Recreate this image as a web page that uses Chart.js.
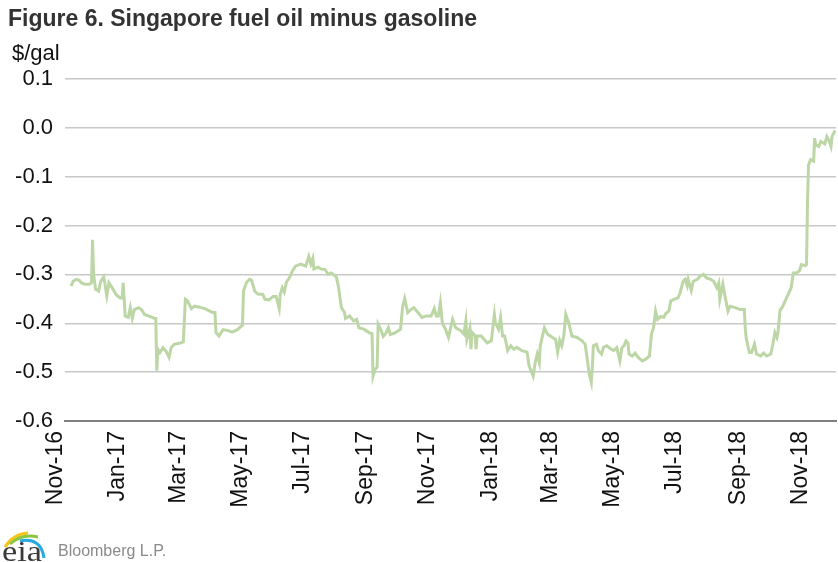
<!DOCTYPE html>
<html>
<head>
<meta charset="utf-8">
<script src="https://cdn.jsdelivr.net/npm/chart.js@4.4.1/dist/chart.umd.min.js"></script>
<style>
body{margin:0;background:#fff;}
#wrap{position:relative;width:838px;height:562px;overflow:hidden;font-family:"Liberation Sans",Arial,sans-serif;}
#title{position:absolute;left:8px;top:7px;line-height:1;font-weight:bold;font-size:23px;color:#333;white-space:nowrap;}
#unit{position:absolute;left:12px;top:42px;line-height:1;font-size:22px;color:#111;}
#logo{position:absolute;left:0;top:528px;}
#src{position:absolute;left:58px;top:543px;line-height:1;font-size:16px;color:#8a8a8a;}
canvas{position:absolute;left:0;top:0;}
</style>
</head>
<body>
<div id="wrap">
  <canvas id="c" width="838" height="562"></canvas>
  <div id="title">Figure 6. Singapore fuel oil minus gasoline</div>
  <div id="unit">$/gal</div>
  <svg id="logo" width="50" height="34">
    <path d="M5 19 Q13 6 28 5" stroke="#f4c51c" stroke-width="3" fill="none"/>
    <path d="M10 16 Q22 5 38 9" stroke="#8cc63f" stroke-width="3" fill="none"/>
    <path d="M20 13 Q41 9 44 30" stroke="#27a9e1" stroke-width="3" fill="none"/>
    <text x="2" y="33" font-family="Liberation Serif, serif" font-size="30" textLength="40" lengthAdjust="spacingAndGlyphs" fill="#3a3a3a">eia</text>
  </svg>
  <div id="src">Bloomberg L.P.</div>
</div>
<script>
// day offsets from 1 Nov 2016
var days = [15,17,20,23,25,28,33,35,36,37,39,42,44,47,50,52,56,59,63,65,66,67,68,71,73,75,77,81,84,87,92,97,98,99,100,102,105,108,111,113,116,121,125,127,129,133,136,141,146,151,154,156,157,160,164,169,173,178,183,184,187,190,192,195,198,203,205,209,213,216,219,220,222,224,226,229,232,235,240,245,248,250,252,253,257,260,264,267,270,275,277,280,283,284,288,292,295,297,302,307,310,311,313,315,316,319,321,324,326,328,333,338,340,342,345,348,351,355,359,363,368,371,373,375,377,379,382,385,389,392,397,400,402,403,406,407,408,411,412,413,417,420,423,427,430,431,434,436,438,440,443,446,449,452,457,462,464,468,470,472,474,475,479,482,487,490,492,494,496,498,500,503,506,511,516,519,521,523,525,526,527,530,532,535,537,540,544,547,550,553,555,557,559,561,562,565,568,571,575,578,582,584,586,588,590,593,596,598,601,603,606,610,612,615,617,619,620,623,625,629,632,635,638,642,645,648,650,651,654,656,659,661,666,671,675,676,677,680,682,685,687,691,694,697,701,703,705,707,708,710,713,715,718,721,723,726,729,731,735,736,737,738,740,743,744,745,748,750,754,756,758,760,761,764];
var spread = [-0.324,-0.314,-0.31,-0.312,-0.317,-0.32,-0.32,-0.317,-0.229,-0.30,-0.33,-0.334,-0.314,-0.305,-0.344,-0.317,-0.33,-0.341,-0.348,-0.348,-0.317,-0.35,-0.385,-0.388,-0.368,-0.39,-0.372,-0.368,-0.372,-0.382,-0.386,-0.39,-0.39,-0.497,-0.453,-0.46,-0.45,-0.457,-0.47,-0.45,-0.443,-0.441,-0.438,-0.351,-0.354,-0.37,-0.365,-0.367,-0.37,-0.375,-0.378,-0.378,-0.419,-0.426,-0.413,-0.415,-0.418,-0.413,-0.404,-0.334,-0.316,-0.31,-0.312,-0.334,-0.34,-0.341,-0.351,-0.352,-0.345,-0.345,-0.37,-0.341,-0.327,-0.336,-0.316,-0.307,-0.293,-0.283,-0.279,-0.283,-0.263,-0.279,-0.267,-0.289,-0.285,-0.289,-0.29,-0.30,-0.297,-0.305,-0.324,-0.368,-0.378,-0.39,-0.385,-0.395,-0.392,-0.409,-0.412,-0.419,-0.421,-0.508,-0.494,-0.49,-0.402,-0.415,-0.427,-0.419,-0.409,-0.423,-0.419,-0.412,-0.366,-0.349,-0.378,-0.372,-0.368,-0.378,-0.388,-0.385,-0.385,-0.37,-0.385,-0.385,-0.358,-0.40,-0.412,-0.429,-0.392,-0.409,-0.415,-0.422,-0.395,-0.433,-0.41,-0.453,-0.418,-0.425,-0.453,-0.426,-0.426,-0.433,-0.44,-0.436,-0.382,-0.399,-0.412,-0.388,-0.426,-0.426,-0.456,-0.446,-0.453,-0.449,-0.456,-0.459,-0.487,-0.508,-0.48,-0.463,-0.48,-0.446,-0.409,-0.422,-0.429,-0.433,-0.459,-0.435,-0.446,-0.426,-0.382,-0.40,-0.426,-0.429,-0.436,-0.443,-0.473,-0.504,-0.521,-0.49,-0.446,-0.443,-0.456,-0.463,-0.449,-0.446,-0.452,-0.456,-0.45,-0.477,-0.45,-0.446,-0.436,-0.44,-0.463,-0.467,-0.461,-0.47,-0.477,-0.474,-0.467,-0.422,-0.409,-0.375,-0.392,-0.386,-0.388,-0.38,-0.375,-0.354,-0.351,-0.348,-0.338,-0.314,-0.31,-0.323,-0.31,-0.333,-0.314,-0.31,-0.303,-0.30,-0.307,-0.31,-0.314,-0.327,-0.317,-0.351,-0.32,-0.344,-0.375,-0.365,-0.368,-0.372,-0.372,-0.412,-0.432,-0.46,-0.46,-0.443,-0.463,-0.467,-0.461,-0.467,-0.463,-0.443,-0.419,-0.429,-0.419,-0.374,-0.364,-0.354,-0.341,-0.327,-0.297,-0.297,-0.293,-0.28,-0.282,-0.28,-0.147,-0.076,-0.065,-0.068,-0.021,-0.035,-0.038,-0.028,-0.033,-0.018,-0.026,-0.038,-0.018,-0.005];
var monthLabels = ['Nov-16','Jan-17','Mar-17','May-17','Jul-17','Sep-17','Nov-17','Jan-18','Mar-18','May-18','Jul-18','Sep-18','Nov-18'];
var yTicks = [-0.6,-0.5,-0.4,-0.3,-0.2,-0.1,0,0.1];

var monNames = ['Jan','Feb','Mar','Apr','May','Jun','Jul','Aug','Sep','Oct','Nov','Dec'];
var start = Date.UTC(2016,10,1);
var tickDays = monthLabels.map(function(l){
  var p = l.split('-');
  return Math.round((Date.UTC(2000+parseInt(p[1]), monNames.indexOf(p[0]), 1) - start)/86400000);
});

var pts = [];
for(var i=0;i<days.length;i++){ pts.push({x:days[i], y:spread[i]}); }

var ctx = document.getElementById('c').getContext('2d');
new Chart(ctx, {
  type: 'line',
  data: {
    datasets: [{
      data: pts,
      borderColor: '#bcd6a5',
      borderWidth: 3,
      pointRadius: 0,
      tension: 0,
      fill: false
    }]
  },
  options: {
    responsive: false,
    animation: false,
    layout: {padding: {top: 79, right: 0, bottom: 0, left: 0}},
    plugins: {legend: {display: false}, tooltip: {enabled: false}},
    scales: {
      x: {
        type: 'linear', min: 9, max: 765,
        afterBuildTicks: function(s){ s.ticks = tickDays.map(function(v){ return {value:v}; }); },
        afterFit: function(s){ s.height = 141; },
        grid: {display: false, drawTicks: false},
        border: {display: true, color: '#808080', width: 2},
        ticks: {
          autoSkip: false, minRotation: 90, maxRotation: 90, padding: 10,
          color: '#111', font: {family: '"Liberation Sans", Arial, sans-serif', size: 23},
          callback: function(v, i){ return monthLabels[i]; }
        }
      },
      y: {
        min: -0.6, max: 0.1,
        afterBuildTicks: function(s){ s.ticks = yTicks.map(function(v){ return {value:v}; }); },
        afterFit: function(s){ s.width = 65; },
        grid: {color: '#c8c8c8', lineWidth: 1.5, drawTicks: false},
        border: {display: false},
        ticks: {
          padding: 12, color: '#111', font: {family: '"Liberation Sans", Arial, sans-serif', size: 22},
          callback: function(v){ return (Math.abs(v) < 1e-9 ? 0 : v).toFixed(1); }
        }
      }
    }
  }
});
</script>
</body>
</html>
